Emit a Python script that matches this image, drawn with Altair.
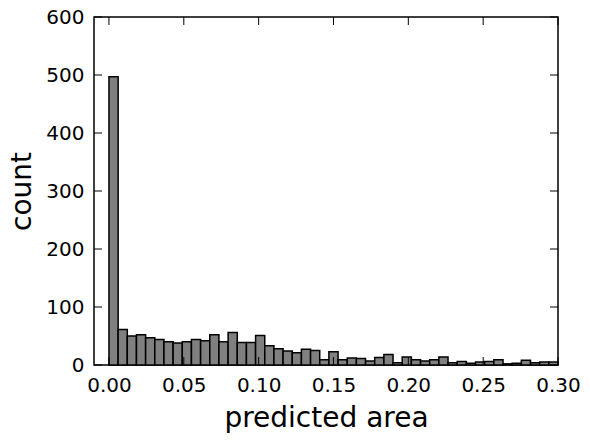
import altair as alt
import pandas as pd

counts = [497, 61, 50, 52, 47, 44, 40, 38, 40, 44, 42, 52, 40, 56, 39, 39, 51, 33, 28, 24,
          21, 27, 25, 9, 23, 9, 12, 11, 7, 13, 18, 4, 14, 9, 7, 9, 14, 4, 6, 3,
          5, 6, 9, 2, 3, 8, 4, 5, 5]
bin_width = 0.30 / 49
x_ticks = [0.0, 0.05, 0.10, 0.15, 0.20, 0.25, 0.30]
y_ticks = [0, 100, 200, 300, 400, 500, 600]

bars = pd.DataFrame({
    "start": [i * bin_width for i in range(len(counts))],
    "end": [(i + 1) * bin_width for i in range(len(counts))],
    "count": counts,
})
xt = pd.DataFrame({"start": x_ticks})
yt = pd.DataFrame({"count": y_ticks})

W, H = 464, 348
TL = 8
FONT = "DejaVu Sans"

xscale = alt.Scale(domain=[-0.01, 0.30], nice=False, zero=False)
yscale = alt.Scale(domain=[0, 600], nice=False)
x_axis = alt.Axis(values=x_ticks, format=".2f", labelPadding=10, labelFlush=False,
                  labelOverlap=False,
                  titleX=W / 2, titleY=61, titleAlign="center",
                  titleBaseline="alphabetic")
y_axis = alt.Axis(values=y_ticks, format="d", labelPadding=10, labelFlush=False,
                  labelOverlap=False,
                  titleX=-72, titleY=H / 2, titleAngle=270,
                  titleAlign="center", titleBaseline="middle")
X = alt.X("start:Q", scale=xscale, title="predicted area", axis=x_axis)
Y = alt.Y("count:Q", scale=yscale, title="count", axis=y_axis)

bar_layer = alt.Chart(bars).mark_bar(
    fill="#808080", stroke="black", strokeWidth=1.5, opacity=1
).encode(x=X, x2="end:Q", y=Y, y2=alt.datum(0))

bottom_ticks = alt.Chart(xt).mark_rule(color="black", strokeWidth=1).encode(
    x=X, y=alt.value(H), y2=alt.value(H - TL))
top_ticks = alt.Chart(xt).mark_rule(color="black", strokeWidth=1).encode(
    x=X, y=alt.value(0), y2=alt.value(TL))
left_ticks = alt.Chart(yt).mark_rule(color="black", strokeWidth=1).encode(
    y=Y, x=alt.value(0), x2=alt.value(TL))
right_ticks = alt.Chart(yt).mark_rule(color="black", strokeWidth=1).encode(
    y=Y, x=alt.value(W), x2=alt.value(W - TL))

chart = alt.layer(bar_layer, bottom_ticks, top_ticks, left_ticks, right_ticks).properties(
    width=W, height=H,
    autosize="none",
    padding={"left": 94, "top": 17, "right": 32, "bottom": 76},
    background="white",
).configure_view(
    stroke="black", strokeWidth=1.5
).configure_axis(
    ticks=False, domain=False, grid=False,
    labelFont=FONT, labelFontSize=20, labelColor="black",
    titleFont=FONT, titleFontSize=28, titleFontWeight="normal", titleColor="black",
)

chart.save("out.html", embed_options={"renderer": "svg", "actions": False})
